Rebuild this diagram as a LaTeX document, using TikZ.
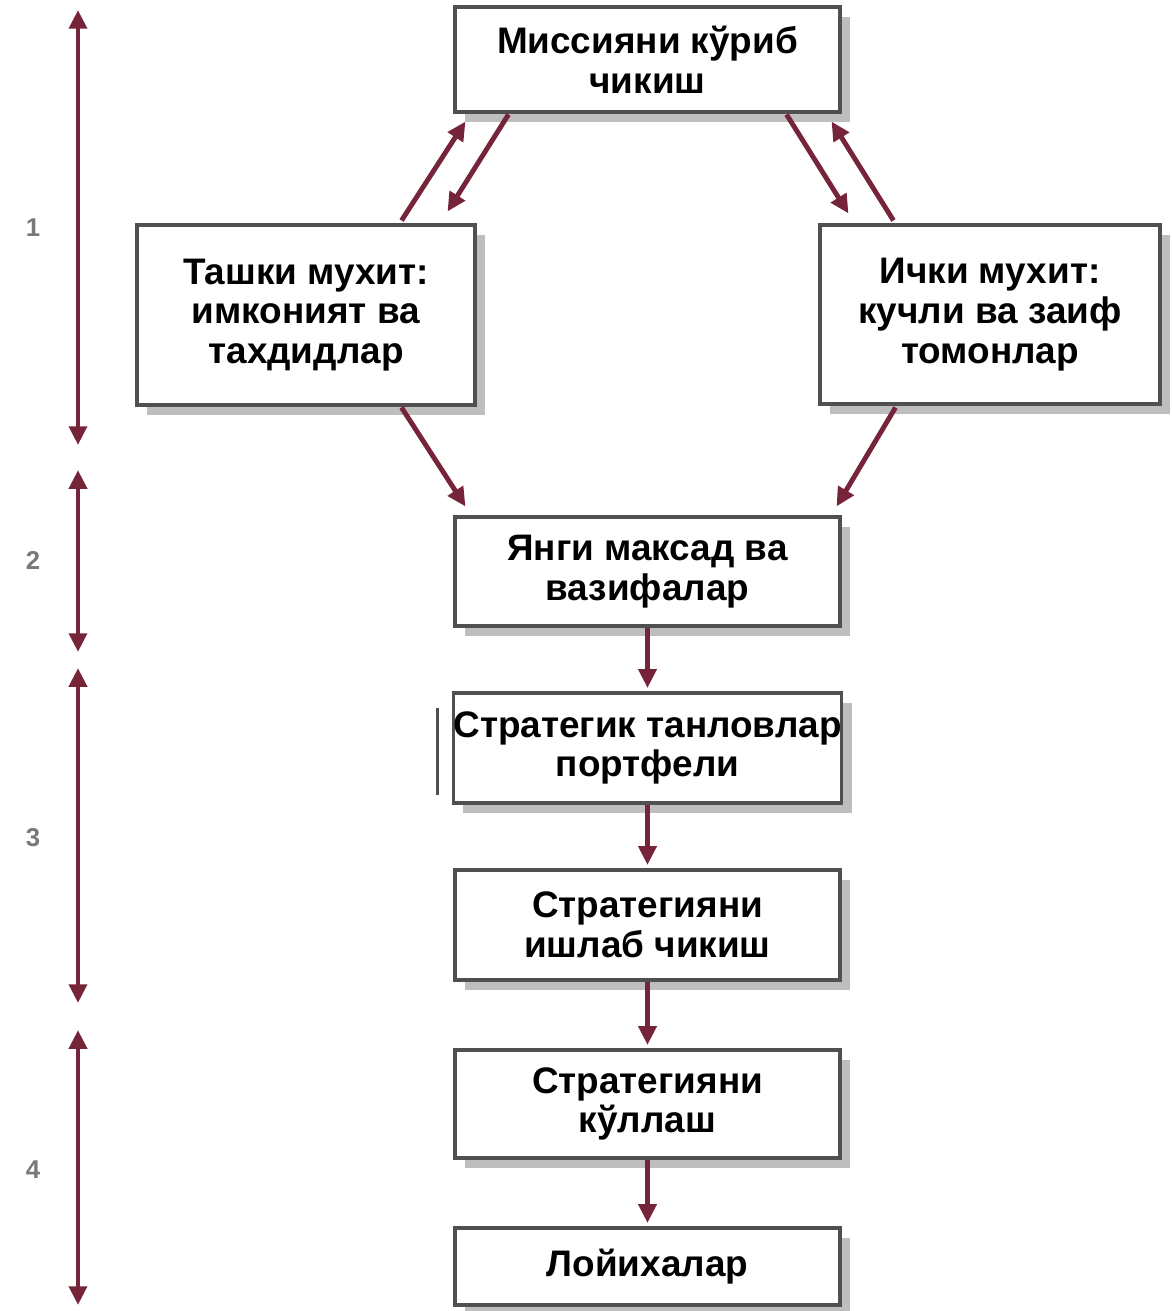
\documentclass[tikz,border=0pt]{standalone}
\usepackage{fontspec}
\setmainfont{Liberation Sans}
\usetikzlibrary{arrows.meta,calc,shadows}
\definecolor{arrowred}{RGB}{118,36,58}
\definecolor{boxline}{RGB}{80,80,80}
\definecolor{shade}{RGB}{190,190,190}
\definecolor{numgray}{RGB}{120,120,120}

\begin{document}
\begin{tikzpicture}[x=0.03cm,y=-0.03cm,
  box/.style={draw=boxline, line width=2.6pt, fill=white, align=center, inner sep=0pt,
    font=\fontsize{31.5}{34}\selectfont\bfseries,
    drop shadow={shadow xshift=0.3cm, shadow yshift=-0.3cm, fill=shade, opacity=1}},
  wide/.style={minimum width=11.55cm},
  flow/.style={draw=arrowred, line width=4.2pt, -{Triangle[length=16pt,width=15pt]}},
  span/.style={draw=arrowred, line width=4.2pt,
    {Triangle[length=16pt,width=15pt]}-{Triangle[length=16pt,width=15pt]}},
  num/.style={text=numgray, font=\fontsize{22}{26}\selectfont\bfseries}
]
\useasboundingbox (0,0) rectangle (1171,1311);

% process boxes
\node[box, wide, minimum height=3.15cm] (mission) at (647.5,59.5)
  {Миссияни кўриб\\чикиш};
\node[box, minimum width=10.14cm, minimum height=5.4cm] (outer) at (306,315)
  {Ташки мухит:\\имконият ва\\тахдидлар};
\node[box, minimum width=10.2cm, minimum height=5.37cm] (inner) at (990,314.5)
  {Ички мухит:\\кучли ва заиф\\томонлар};
\node[box, wide, minimum height=3.27cm] (goals) at (647.5,571.5)
  {Янги максад ва\\вазифалар};
\node[box, wide, minimum height=3.3cm] (portfolio) at (647.5,748)
  {Стратегик танловлар\\портфели};
\node[box, wide, minimum height=3.3cm] (develop) at (647.5,925)
  {Стратегияни\\ишлаб чикиш};
\node[box, wide, minimum height=3.24cm] (implement) at (647.5,1104)
  {Стратегияни\\кўллаш};
\node[box, wide, minimum height=2.31cm] (projects) at (647.5,1266.5)
  {Лойихалар};

% side bar at the left of the portfolio box
\draw[boxline, line width=2.6pt] ($(portfolio.west)+(-14,-40)$) -- ($(portfolio.west)+(-14,47)$);

% feedback between mission and the two environment boxes
\draw[flow] ($(outer.north east)+(-75,-3)$) -- ($(mission.south west)+(12,8)$);
\draw[flow] ($(mission.south west)+(55,1)$) -- ($(outer.north east)+(-29,-12)$);
\draw[flow] ($(mission.south east)+(-55,1)$) -- ($(inner.north west)+(30,-10)$);
\draw[flow] ($(inner.north west)+(75,-3)$) -- ($(mission.south east)+(-10,8)$);

% environment analysis feeds new goals
\draw[flow] ($(outer.south east)+(-75,1)$) -- ($(goals.north west)+(12,-9)$);
\draw[flow] ($(inner.south west)+(77,2)$) -- ($(goals.north east)+(-5,-9)$);

% main downward chain
\draw[flow, shorten >=3pt] (goals.south) -- (portfolio.north);
\draw[flow, shorten >=3pt] (portfolio.south) -- (develop.north);
\draw[flow, shorten >=3pt] (develop.south) -- (implement.north);
\draw[flow, shorten >=3pt] (implement.south) -- (projects.north);

% stage spans on the left
\coordinate (s1t) at (78,10);   \coordinate (s1b) at (78,445);
\coordinate (s2t) at (78,470);  \coordinate (s2b) at (78,652);
\coordinate (s3t) at (78,668);  \coordinate (s3b) at (78,1003);
\coordinate (s4t) at (78,1030); \coordinate (s4b) at (78,1305);
\draw[span] (s1t) -- (s1b);
\draw[span] (s2t) -- (s2b);
\draw[span] (s3t) -- (s3b);
\draw[span] (s4t) -- (s4b);

\node[num] (n1) at (33,228) {1};
\node[num] (n2) at (33,560) {2};
\node[num] (n3) at (33,838) {3};
\node[num] (n4) at (33,1170) {4};
\end{tikzpicture}
\end{document}
